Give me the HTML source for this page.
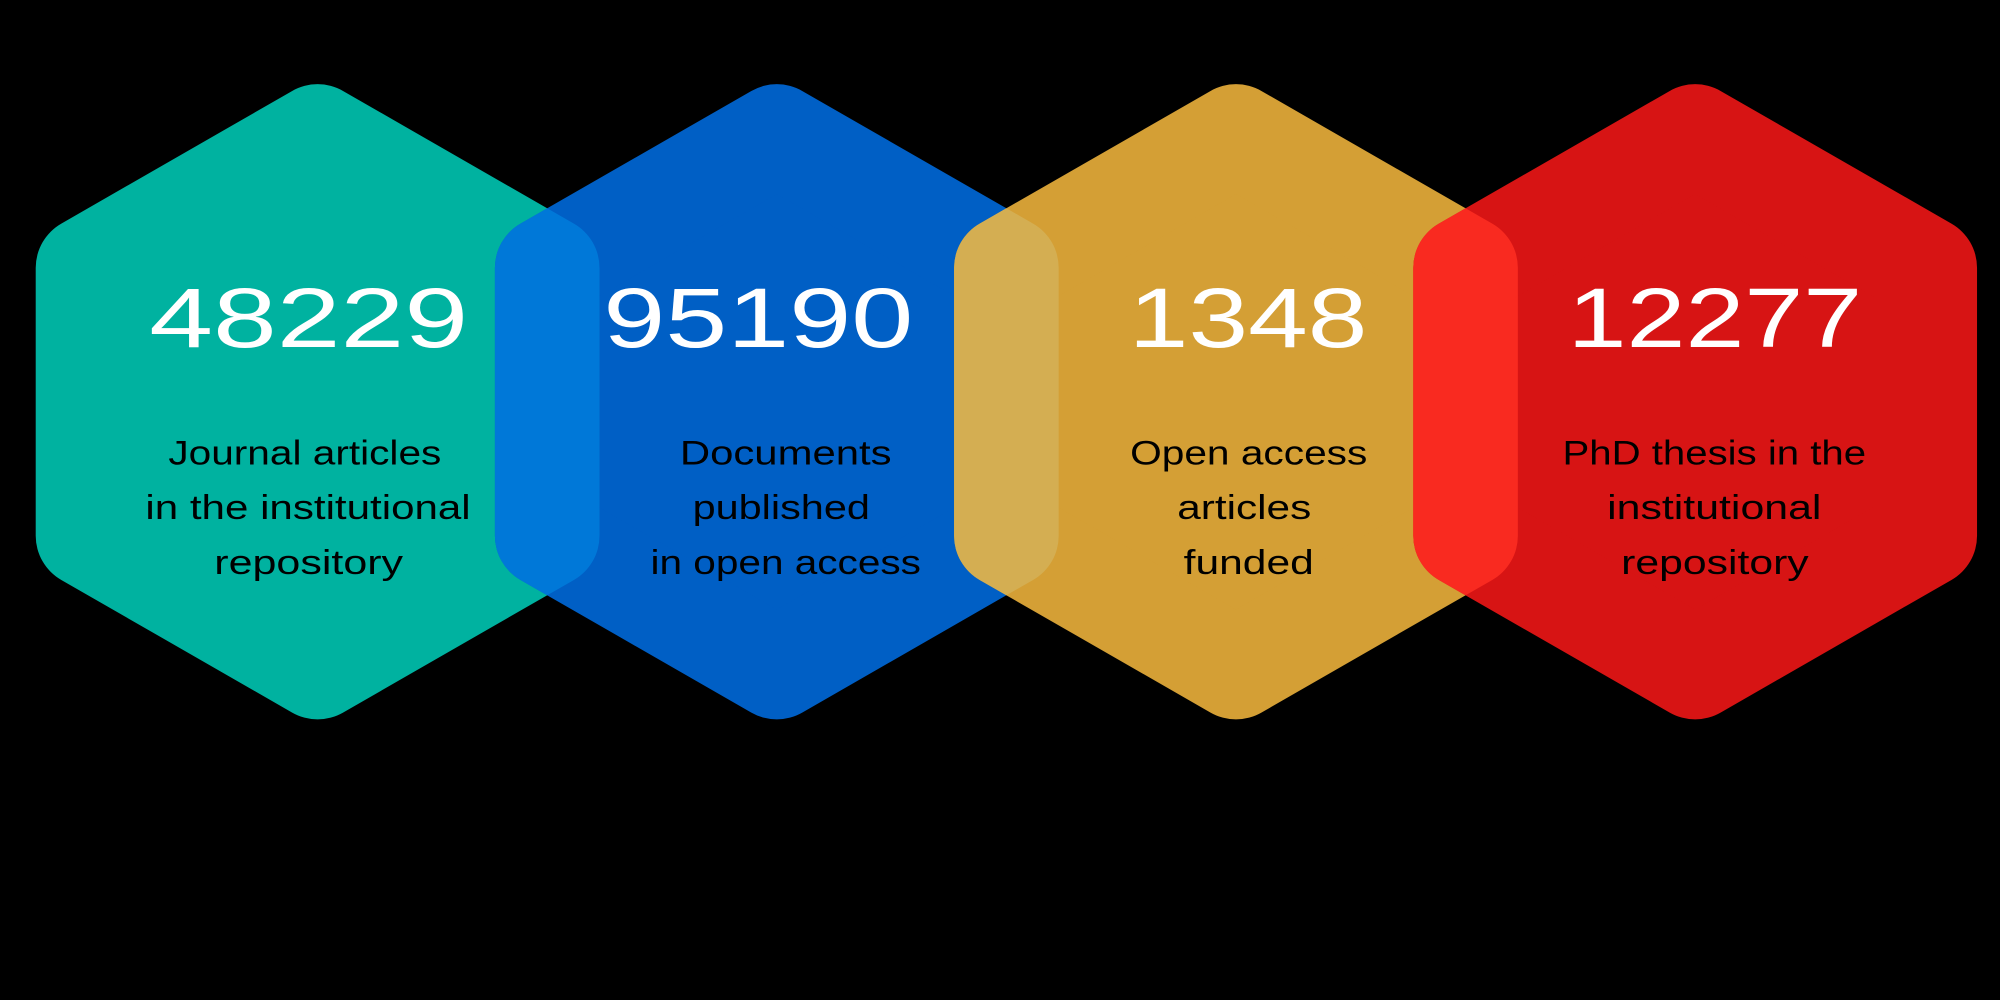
<!DOCTYPE html>
<html><head><meta charset="utf-8"><style>
html,body{margin:0;padding:0;background:#000;}
svg{display:block}
</style></head><body>
<svg width="2000" height="1000" viewBox="0 0 1568 784" xmlns="http://www.w3.org/2000/svg">
<defs>
  <polygon id="h1" points="249,106 430,210 430,420 249,524 68,420 68,210"/>
  <polygon id="h2" points="609,106 790,210 790,420 609,524 428,420 428,210"/>
  <polygon id="h3" points="969,106 1150,210 1150,420 969,524 788,420 788,210"/>
  <polygon id="h4" points="1329,106 1510,210 1510,420 1329,524 1148,420 1148,210"/>
  <mask id="m1" maskUnits="userSpaceOnUse" x="0" y="0" width="1568" height="784"><use href="#h1" fill="#fff" stroke="#fff" stroke-width="80" stroke-linejoin="round"/></mask>
  <mask id="m2" maskUnits="userSpaceOnUse" x="0" y="0" width="1568" height="784"><use href="#h2" fill="#fff" stroke="#fff" stroke-width="80" stroke-linejoin="round"/></mask>
  <mask id="m3" maskUnits="userSpaceOnUse" x="0" y="0" width="1568" height="784"><use href="#h3" fill="#fff" stroke="#fff" stroke-width="80" stroke-linejoin="round"/></mask>
</defs>
<rect width="1568" height="784" fill="#000"/>
<use href="#h1" fill="#00b2a0" stroke="#00b2a0" stroke-width="80" stroke-linejoin="round"/>
<use href="#h2" fill="#005fc5" stroke="#005fc5" stroke-width="80" stroke-linejoin="round"/>
<use href="#h3" fill="#d49f35" stroke="#d49f35" stroke-width="80" stroke-linejoin="round"/>
<use href="#h4" fill="#d71414" stroke="#d71414" stroke-width="80" stroke-linejoin="round"/>
<g mask="url(#m1)"><use href="#h2" fill="#0078d8" stroke="#0078d8" stroke-width="80" stroke-linejoin="round"/></g>
<g mask="url(#m2)"><use href="#h3" fill="#d4ae52" stroke="#d4ae52" stroke-width="80" stroke-linejoin="round"/></g>
<g mask="url(#m3)"><use href="#h4" fill="#f92a20" stroke="#f92a20" stroke-width="80" stroke-linejoin="round"/></g>
<g font-family="Liberation Sans, sans-serif" fill="#fff" font-size="66">
  <text x="117" y="272" textLength="250" lengthAdjust="spacingAndGlyphs">48229</text>
  <text x="473" y="272" textLength="243" lengthAdjust="spacingAndGlyphs">95190</text>
  <text x="885" y="272" textLength="187" lengthAdjust="spacingAndGlyphs">1348</text>
  <text x="1229" y="272" textLength="231" lengthAdjust="spacingAndGlyphs">12277</text>
</g>
<g font-family="Liberation Sans, sans-serif" fill="#000" font-size="27" lengthAdjust="spacingAndGlyphs">
  <text x="132" y="364" textLength="214" lengthAdjust="spacingAndGlyphs">Journal articles</text>
  <text x="114" y="407" textLength="255" lengthAdjust="spacingAndGlyphs">in the institutional</text>
  <text x="168" y="450" textLength="148" lengthAdjust="spacingAndGlyphs">repository</text>
  <text x="533" y="364" textLength="166" lengthAdjust="spacingAndGlyphs">Documents</text>
  <text x="543" y="407" textLength="139" lengthAdjust="spacingAndGlyphs">published</text>
  <text x="510" y="450" textLength="212" lengthAdjust="spacingAndGlyphs">in open access</text>
  <text x="886" y="364" textLength="186" lengthAdjust="spacingAndGlyphs">Open access</text>
  <text x="923" y="407" textLength="105" lengthAdjust="spacingAndGlyphs">articles</text>
  <text x="928" y="450" textLength="102" lengthAdjust="spacingAndGlyphs">funded</text>
  <text x="1225" y="364" textLength="238" lengthAdjust="spacingAndGlyphs">PhD thesis in the</text>
  <text x="1260" y="407" textLength="168" lengthAdjust="spacingAndGlyphs">institutional</text>
  <text x="1271" y="450" textLength="147" lengthAdjust="spacingAndGlyphs">repository</text>
</g>
</svg>
</body></html>
